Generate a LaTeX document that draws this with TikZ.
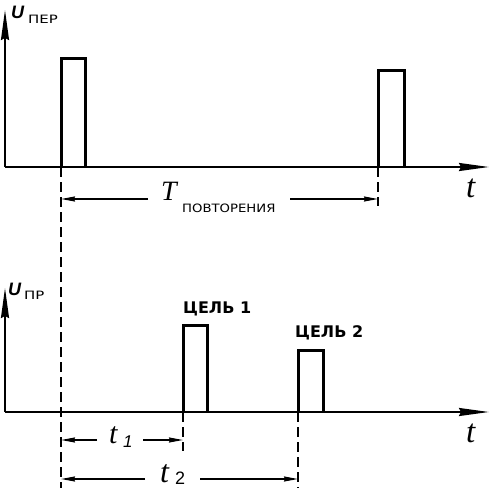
\documentclass[tikz,border=0pt]{standalone}
\usepackage{fontspec}
\usepackage{graphicx}
\setmainfont{Liberation Serif}
\newfontfamily\cyr{DejaVu Sans}
\newfontfamily\usans{Liberation Sans}
\newcommand\mywide[2]{\scalebox{#1}[1]{#2}}
\usetikzlibrary{arrows.meta}
\begin{document}
\begin{tikzpicture}[x=1pt,y=-1pt,
  axis/.style={line width=1.9pt,-{Stealth[length=30pt,width=8pt,inset=2pt]}},
  pulse/.style={line width=3pt,line join=miter},
  dashline/.style={line width=1.6pt,dash pattern=on 10pt off 5pt},
  dimarrow/.style={line width=1.5pt,-{Stealth[length=14pt,width=5pt,inset=1pt]}},
  bigit/.style={inner sep=0pt,anchor=base west,text depth=0pt,font=\fontsize{33}{33}\selectfont\itshape},
  ulab/.style={inner sep=0pt,anchor=base west,font=\usans\fontsize{18}{18}\selectfont\bfseries\itshape},
  sub/.style={inner sep=0pt,anchor=base west,text depth=0pt,font=\cyr\fontsize{11.5}{11.5}\selectfont},
  target/.style={inner sep=0pt,anchor=base west,font=\cyr\fontsize{16}{16}\selectfont\bfseries}]
\useasboundingbox (0,0) rectangle (491,488);

% top axes
\coordinate (o1) at (5,167);
\coordinate (y1) at (5,10);
\coordinate (x1) at (489,167);
\draw[axis] (o1) -- (y1);
\draw[axis] (o1) -- (x1);
\node[ulab] (U1) at (11,18) {U};
\node[sub] (U1s) at (28,23) {\mywide{1.3}{ПЕР}};
\node[bigit] (t1ax) at (466,197) {t};

% top pulses
\coordinate (p1a) at (61,167); \coordinate (p1b) at (61,58);
\coordinate (p1c) at (85,58);  \coordinate (p1d) at (85,167);
\draw[pulse] (p1a) -- (p1b) -- (p1c) -- (p1d);
\coordinate (p2a) at (378,167); \coordinate (p2b) at (378,70);
\coordinate (p2c) at (404,70);  \coordinate (p2d) at (404,167);
\draw[pulse] (p2a) -- (p2b) -- (p2c) -- (p2d);

% bottom axes
\coordinate (o2) at (5,412);
\coordinate (y2) at (5,288);
\coordinate (x2) at (489,412);
\draw[axis] (o2) -- (y2);
\draw[axis] (o2) -- (x2);
\node[ulab] (U2) at (8,295) {U};
\node[sub] (U2s) at (24,299) {\mywide{1.3}{ПР}};
\node[bigit] (t2ax) at (466,442) {t};

% bottom pulses
\coordinate (q1a) at (183,412); \coordinate (q1b) at (183,325);
\coordinate (q1c) at (207,325); \coordinate (q1d) at (207,412);
\draw[pulse] (q1a) -- (q1b) -- (q1c) -- (q1d);
\coordinate (q2a) at (298,412); \coordinate (q2b) at (298,350);
\coordinate (q2c) at (323,350); \coordinate (q2d) at (323,412);
\draw[pulse] (q2a) -- (q2b) -- (q2c) -- (q2d);
\node[target] (c1) at (183,313) {ЦЕЛЬ 1};
\node[target] (c2) at (295,337) {ЦЕЛЬ 2};

% dashed projection lines
\coordinate (d1e) at (61,488);
\coordinate (d2e) at (378,206);
\coordinate (d3e) at (183,451);
\coordinate (d4e) at (298,488);
\draw[dashline] (p1a) -- (d1e);
\draw[dashline] (p2a) -- (d2e);
\draw[dashline] (q1a) -- (d3e);
\draw[dashline] (q2a) -- (d4e);

% T repetition
\coordinate (Ta) at (148,199); \coordinate (Tl) at (61,199);
\coordinate (Tb) at (290,199); \coordinate (Tr) at (378,199);
\draw[dimarrow] (Ta) -- (Tl);
\draw[dimarrow] (Tb) -- (Tr);
\node[bigit,font=\fontsize{28}{28}\selectfont\itshape] (T) at (161,200) {T};
\node[sub] (Ts) at (182,212) {\mywide{1.15}{ПОВТОРЕНИЯ}};

% t1
\coordinate (a1) at (97,440); \coordinate (a1l) at (61,440);
\coordinate (b1) at (143,440); \coordinate (b1r) at (183,440);
\draw[dimarrow] (a1) -- (a1l);
\draw[dimarrow] (b1) -- (b1r);
\node[bigit,font=\fontsize{30}{30}\selectfont\itshape] (tt1) at (109,443) {t};
\node[inner sep=0pt,anchor=base west,font=\usans\fontsize{17}{17}\selectfont\itshape] (tt1s) at (123,447) {1};

% t2
\coordinate (a2) at (145,479); \coordinate (a2l) at (61,479);
\coordinate (b2) at (200,479); \coordinate (b2r) at (298,479);
\draw[dimarrow] (a2) -- (a2l);
\draw[dimarrow] (b2) -- (b2r);
\node[bigit,font=\fontsize{32}{32}\selectfont\itshape] (tt2) at (160,482) {t};
\node[inner sep=0pt,anchor=base west,text depth=0pt,font=\usans\fontsize{18}{18}\selectfont] (tt2s) at (175,484) {2};
\end{tikzpicture}
\end{document}
